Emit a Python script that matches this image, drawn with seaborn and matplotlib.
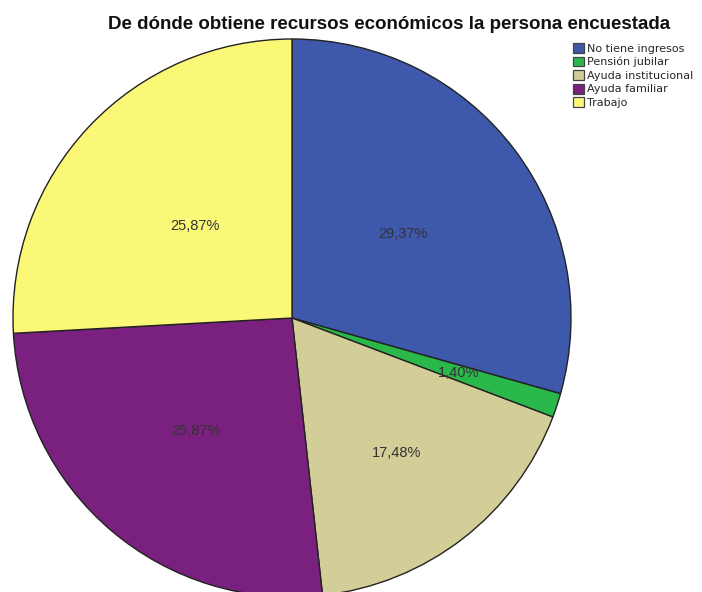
import numpy as np
import matplotlib
matplotlib.use("Agg")
import matplotlib.pyplot as plt
import seaborn as sns

categories = ["No tiene ingresos", "Pensión jubilar", "Ayuda institucional",
              "Ayuda familiar", "Trabajo"]
percentages = [29.37, 1.40, 17.48, 25.87, 25.87]
colors = ["#3E58AC", "#2BB84B", "#D3CE97", "#7A207E", "#FBF878"]
label_dist = [0.50, 0.63, 0.61, 0.53, 0.48]
title = "De dónde obtiene recursos económicos la persona encuestada"

sns.set_theme(style="white")
plt.rcParams["font.family"] = ["Liberation Sans", "DejaVu Sans"]

W, H = 702, 592
fig = plt.figure(figsize=(W / 100, H / 100), dpi=100)
ax = fig.add_axes([0, 0, 1, 1])
ax.set_xlim(0, W)
ax.set_ylim(0, H)
ax.axis("off")

cx, cy, r = 292, H - 318, 279
wedges, _ = ax.pie(percentages, colors=colors, startangle=90, counterclock=False,
                   center=(cx, cy), radius=r,
                   wedgeprops=dict(edgecolor="#222222", linewidth=1.0))
ax.set_xlim(0, W)
ax.set_ylim(0, H)
ax.set_aspect("equal")

for w, p, d in zip(wedges, percentages, label_dist):
    ang = np.deg2rad((w.theta1 + w.theta2) / 2)
    ax.text(cx + d * r * np.cos(ang), cy + d * r * np.sin(ang),
            f"{p:.2f}%".replace(".", ","), ha="center", va="center",
            fontsize=10.5, color="#333333")

fig.text(389 / W, 1 - 29 / H, title, ha="center", va="baseline",
         fontsize=13.5, fontweight="bold", color="#111111")

leg = ax.legend(wedges, categories, loc="upper left",
                bbox_to_anchor=(573 / W, 1 - 43 / H), bbox_transform=fig.transFigure,
                frameon=False, prop={"family": "DejaVu Sans", "size": 8},
                handlelength=1.0, handleheight=1.0,
                handletextpad=0.25, labelspacing=0.25, borderpad=0.0,
                borderaxespad=0.0)
for h in leg.legend_handles:
    h.set_edgecolor("#444444")
    h.set_linewidth(0.9)

fig.savefig("out.png", dpi=100, facecolor="white")
